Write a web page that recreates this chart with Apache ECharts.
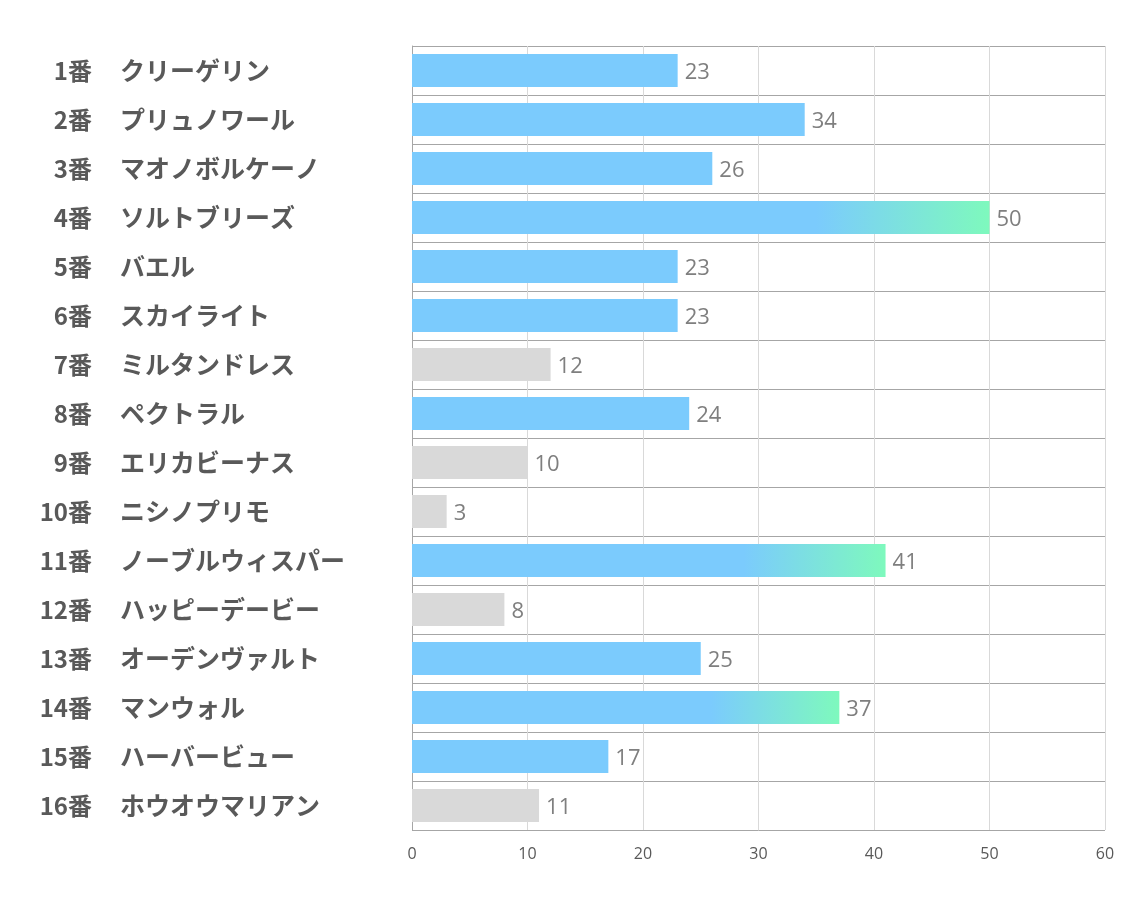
<!DOCTYPE html>
<html>
<head>
<meta charset="utf-8">
<script src="https://cdn.jsdelivr.net/npm/echarts@6/dist/echarts.min.js"></script>
<style>
  html, body { margin: 0; padding: 0; background: #fff; }
  #chart { width: 1134px; height: 907px; }
</style>
</head>
<body>
<div id="chart"></div>
<script>
const numbers = ['1番', '2番', '3番', '4番', '5番', '6番', '7番', '8番',
  '9番', '10番', '11番', '12番', '13番', '14番', '15番', '16番'];
const horses = ['クリーゲリン', 'プリュノワール', 'マオノボルケーノ', 'ソルトブリーズ', 'バエル',
  'スカイライト', 'ミルタンドレス', 'ペクトラル', 'エリカビーナス', 'ニシノプリモ',
  'ノーブルウィスパー', 'ハッピーデービー', 'オーデンヴァルト', 'マンウォル', 'ハーバービュー',
  'ホウオウマリアン'];
const scores = [23, 34, 26, 50, 23, 23, 12, 24, 10, 3, 41, 8, 25, 37, 17, 11];
const xTicks = [0, 10, 20, 30, 40, 50, 60];

const blue = '#7bcbfd';
const green = '#7ef9bd';
const gray = '#d9d9d9';
const labelFont = 'Noto Sans CJK JP';

// top 3 get the gradient, low scores are grey
const top3 = [...scores].sort((a, b) => b - a).slice(0, 3);

const chart = echarts.init(document.getElementById('chart'));

const option = {
  backgroundColor: '#fff',
  animation: false,
  grid: { left: 412, right: 29, top: 46, bottom: 77 },
  xAxis: {
    type: 'value',
    min: xTicks[0],
    max: xTicks[xTicks.length - 1],
    interval: 10,
    axisLine: { show: false },
    axisTick: { show: false },
    axisLabel: { color: '#595959', fontSize: 16, margin: 16, fontFamily: 'Open Sans' },
    splitLine: { show: true, lineStyle: { color: '#d9d9d9', width: 1 } }
  },
  yAxis: [{
    // horse names, left aligned
    type: 'category',
    inverse: true,
    data: horses,
    axisLine: { show: true, lineStyle: { color: '#a6a6a6' } },
    axisTick: { show: false },
    splitLine: { show: true, lineStyle: { color: '#a6a6a6', width: 1 } },
    axisLabel: {
      margin: 292,
      align: 'left',
      fontSize: 25,
      fontWeight: 'bold',
      color: '#595959',
      fontFamily: labelFont
    }
  }, {
    // 番号, right aligned
    type: 'category',
    inverse: true,
    position: 'left',
    offset: 0,
    data: numbers,
    axisLine: { show: false },
    axisTick: { show: false },
    splitLine: { show: false },
    axisLabel: {
      margin: 320,
      align: 'right',
      fontSize: 24,
      fontWeight: 'bold',
      color: '#595959',
      fontFamily: labelFont
    }
  }],
  series: [{
    type: 'bar',
    yAxisIndex: 0,
    barWidth: 33,
    data: scores.map((v) => {
      let color = blue;
      if (top3.includes(v)) {
        color = new echarts.graphic.LinearGradient(0, 0, 1, 0, [
          { offset: 0, color: blue },
          { offset: 0.7, color: blue },
          { offset: 1, color: green }
        ]);
      } else if (v < 15) {
        color = gray;
      }
      return { value: v, itemStyle: { color: color } };
    }),
    label: {
      show: true,
      position: 'right',
      distance: 7,
      offset: [0, 2],
      color: '#7f7f7f',
      fontSize: 22,
      fontFamily: 'Open Sans'
    }
  }]
};

chart.setOption(option);
</script>
</body>
</html>
